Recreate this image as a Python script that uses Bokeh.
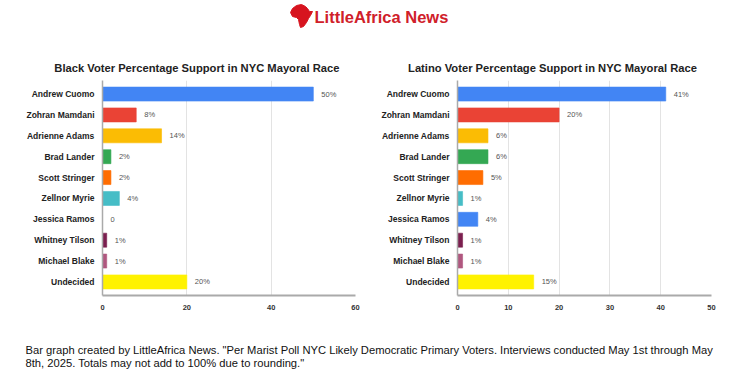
from bokeh.plotting import figure
from bokeh.layouts import column, row
from bokeh.models import Range1d, FactorRange, FixedTicker, ColumnDataSource
from bokeh.core.properties import value
from bokeh.embed import file_html
from bokeh.resources import INLINE

# ---------------- data ----------------
candidates = ["Andrew Cuomo", "Zohran Mamdani", "Adrienne Adams", "Brad Lander",
              "Scott Stringer", "Zellnor Myrie", "Jessica Ramos", "Whitney Tilson",
              "Michael Blake", "Undecided"]
black_support = [50, 8, 14, 2, 2, 4, 0, 1, 1, 20]
black_labels = ["50%", "8%", "14%", "2%", "2%", "4%", "0", "1%", "1%", "20%"]
latino_support = [41, 20, 6, 6, 5, 1, 4, 1, 1, 15]
latino_labels = ["41%", "20%", "6%", "6%", "5%", "1%", "4%", "1%", "1%", "15%"]
bar_colors = ["#4285F4", "#EA4335", "#FBBC04", "#34A853", "#FF6D01",
              "#46BDC6", "#4285F4", "#7B1F4F", "#B0577F", "#FFF200"]
black_ticks = [0, 20, 40, 60]
latino_ticks = [0, 10, 20, 30, 40, 50]
black_title = "Black Voter Percentage Support in NYC Mayoral Race"
latino_title = "Latino Voter Percentage Support in NYC Mayoral Race"
brand = "LittleAfrica News"
footer_lines = [
    "Bar graph created by LittleAfrica News. \"Per Marist Poll NYC Likely Democratic Primary Voters. Interviews conducted May 1st through May",
    "8th, 2025. Totals may not add to 100% due to rounding.\"",
]

FONT = "Liberation Sans"


def blank(width, height, y0, y1):
    p = figure(width=width, height=height, output_backend="svg", toolbar_location=None,
               x_range=Range1d(0, width), y_range=Range1d(y1, y0),
               min_border=0, outline_line_color=None)
    p.axis.visible = False
    p.grid.visible = False
    p.background_fill_color = "white"
    p.border_fill_color = "white"
    return p


# ---------------- header (logo + chart titles) ----------------
header = blank(750, 76, 0, 76)
# Africa silhouette logo (decorative)
header.patch([292, 296, 301, 305, 307, 309, 312, 310, 308, 306, 303, 300, 299, 298, 296, 292, 290],
             [8, 5, 4, 6, 8, 11, 11, 15, 18, 22, 26, 27, 24, 19, 17, 16, 12],
             color="#D7141F", line_width=1)
header.text(x=[314], y=[16.5], text=[brand], text_font=value(FONT), text_font_style="bold",
            text_font_size="16.5px", text_color="#D0202A", text_baseline="middle", text_align="left")
header.text(x=[196.4, 552], y=[67.5, 67.5], text=[black_title, latino_title],
            text_font=value(FONT), text_font_style="bold", text_font_size="11.2px",
            text_color="#222222", text_baseline="alphabetic", text_align="center")


# ---------------- charts ----------------
def chart(values, labels, ticks, xmax, border_left, border_right):
    factors = list(reversed(candidates))
    p = figure(width=375, height=239, output_backend="svg", toolbar_location=None,
               y_range=FactorRange(factors=factors, range_padding=0.03),
               x_range=Range1d(0, xmax),
               min_border_left=border_left, min_border_right=border_right,
               min_border_top=4, min_border_bottom=20, outline_line_color=None)
    src = ColumnDataSource(dict(cand=candidates, val=values, lab=labels, col=bar_colors))
    p.hbar(y="cand", right="val", left=0, height=0.67, color="col", line_color="col",
           line_alpha=0.6, source=src)
    p.text(x="val", y="cand", text="lab", source=src, x_offset=8,
           text_font=value(FONT), text_font_size="7.5px", text_color="#555555",
           text_baseline="middle", text_align="left")
    p.ygrid.visible = False
    p.xgrid.grid_line_color = "#e3e3e3"
    p.xgrid.grid_line_width = 1
    p.xaxis.ticker = FixedTicker(ticks=ticks)
    p.xaxis.major_tick_line_color = None
    p.xaxis.minor_tick_line_color = None
    p.xaxis.axis_line_color = "#aaaaaa"
    p.xaxis.axis_line_width = 2
    p.xaxis.major_label_text_font = FONT
    p.xaxis.major_label_text_font_style = "bold"
    p.xaxis.major_label_text_font_size = "7.5px"
    p.xaxis.major_label_text_color = "#333333"
    p.xaxis.major_label_standoff = 3
    p.yaxis.major_tick_line_color = None
    p.yaxis.minor_tick_line_color = None
    p.yaxis.axis_line_color = "#aaaaaa"
    p.yaxis.axis_line_width = 1.5
    p.yaxis.major_label_text_font = FONT
    p.yaxis.major_label_text_font_style = "bold"
    p.yaxis.major_label_text_font_size = "8.5px"
    p.yaxis.major_label_text_color = "#222222"
    p.yaxis.major_label_standoff = 2
    p.background_fill_color = "white"
    p.border_fill_color = "white"
    return p


left = chart(black_support, black_labels, black_ticks, 60, 102, 20)
right = chart(latino_support, latino_labels, latino_ticks, 50, 82, 39)

# ---------------- footer ----------------
footer = blank(750, 60, 315, 375)
footer.text(x=[25, 25], y=[349, 362], text=footer_lines, text_font=value(FONT),
            text_font_size="11.2px", text_color="#111111", text_baseline="alphabetic",
            text_align="left")

layout = column(header, row(left, right), footer)
open("out.html", "w").write(file_html(layout, INLINE))
